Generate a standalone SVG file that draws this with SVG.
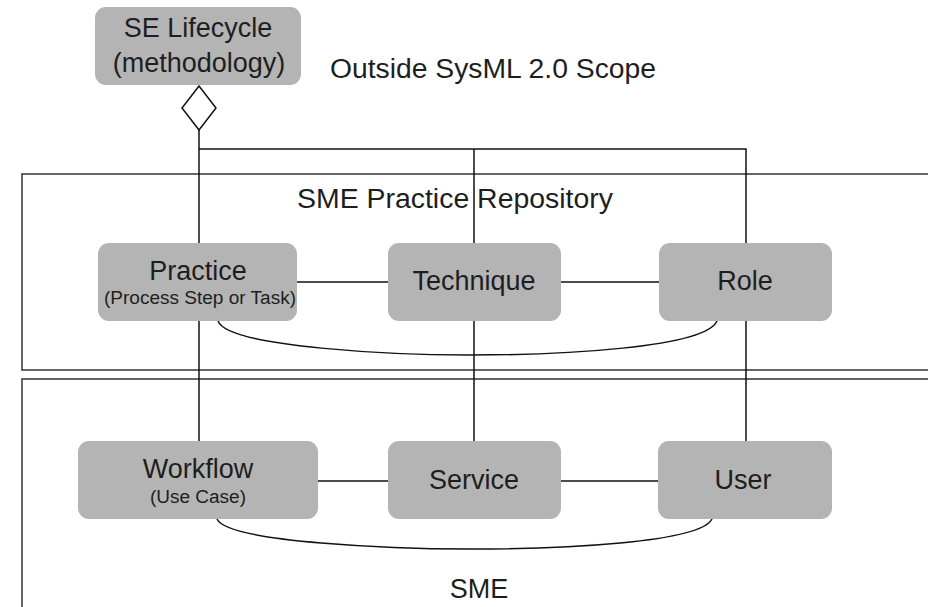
<svg xmlns="http://www.w3.org/2000/svg" width="928" height="607" viewBox="0 0 928 607">
  <style>
    .node { fill: #b4b4b4; stroke: none; }
    .t { font-family: "Liberation Sans", Arial, sans-serif; fill: #1e1e1e; text-anchor: middle; }
    .big { font-size: 27px; }
    .small { font-size: 18px; }
    .lbl { font-family: "Liberation Sans", Arial, sans-serif; fill: #1e1e1e; font-size: 27px; }
    .ln { stroke: #111; stroke-width: 1.5; fill: none; }
    .frame { stroke: #333; stroke-width: 1.5; fill: none; }
  </style>

  <!-- package frames -->
  <g id="frames">
    <path class="frame" d="M928,174 H22 V370 H928"/>
    <path class="frame" d="M928,379 H22 V607"/>
    <text class="lbl" x="297" y="208" textLength="316" lengthAdjust="spacingAndGlyphs">SME Practice  Repository</text>
    <text class="lbl" x="479" y="598" text-anchor="middle">SME</text>
  </g>

  <text class="lbl" x="330" y="78" textLength="326" lengthAdjust="spacingAndGlyphs">Outside SysML 2.0 Scope</text>

  <!-- connectors -->
  <g id="connectors">
    <polygon class="ln" points="199,86 216,108 199,130 182,108" fill="#fff"/>
    <line class="ln" x1="199" y1="130" x2="199" y2="441"/>
    <polyline class="ln" points="199,149 746,149 746,441"/>
    <line class="ln" x1="474" y1="149" x2="474" y2="441"/>
    <line class="ln" x1="297" y1="282" x2="388" y2="282"/>
    <line class="ln" x1="561" y1="282" x2="659" y2="282"/>
    <line class="ln" x1="318" y1="481" x2="388" y2="481"/>
    <line class="ln" x1="561" y1="481" x2="658" y2="481"/>
    <path class="ln" d="M218,321 C228,348 400,355 470,355 C560,355 705,348 717,321"/>
    <path class="ln" d="M217,519 C228,543 400,549 470,549 C560,549 700,543 712,519"/>
  </g>

  <g id="se-lifecycle">
    <rect class="node" x="95" y="7" width="206" height="78" rx="11"/>
    <text class="t big" x="198" y="37">SE Lifecycle</text>
    <text class="t big" x="199" y="72">(methodology)</text>
  </g>

  <g id="practice">
    <rect class="node" x="98" y="243" width="199" height="78" rx="11"/>
    <text class="t big" x="198" y="280">Practice</text>
    <text class="t small" x="200" y="304" textLength="192" lengthAdjust="spacingAndGlyphs">(Process Step or Task)</text>
  </g>

  <g id="technique">
    <rect class="node" x="388" y="243" width="173" height="78" rx="11"/>
    <text class="t big" x="474" y="290">Technique</text>
  </g>

  <g id="role">
    <rect class="node" x="659" y="243" width="173" height="78" rx="11"/>
    <text class="t big" x="745" y="290">Role</text>
  </g>

  <g id="workflow">
    <rect class="node" x="78" y="441" width="240" height="78" rx="11"/>
    <text class="t big" x="198" y="478">Workflow</text>
    <text class="t small" x="198" y="503" textLength="96" lengthAdjust="spacingAndGlyphs">(Use Case)</text>
  </g>

  <g id="service">
    <rect class="node" x="388" y="441" width="173" height="78" rx="11"/>
    <text class="t big" x="474" y="489">Service</text>
  </g>

  <g id="user">
    <rect class="node" x="658" y="441" width="174" height="78" rx="11"/>
    <text class="t big" x="743" y="489">User</text>
  </g>
</svg>
